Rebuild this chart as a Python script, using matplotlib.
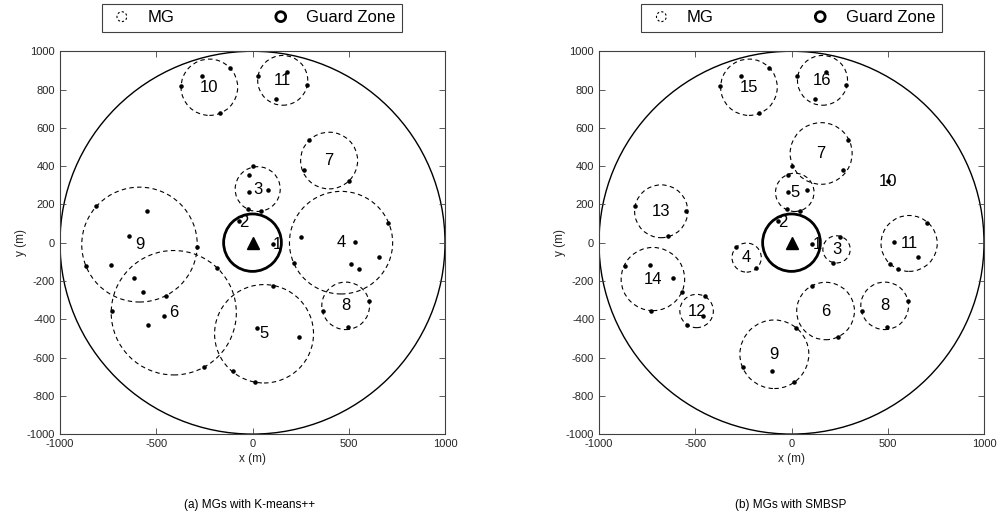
import matplotlib.pyplot as plt
from matplotlib.patches import Circle
from matplotlib.legend_handler import HandlerPatch

plt.rcParams['font.family'] = ['Liberation Sans', 'DejaVu Sans']
plt.rcParams['axes.unicode_minus'] = False

# user positions (m), same drop for both clusterings
user_x = [-370, -263, -116, -170, 29, 178, 284, 121, 296, 268, 502, 5, -17, -19,
          80, -24, 45, -69, 109, 253, 535, 706, 656, -811, -547, -644, -289,
          -867, -737, -614, -567, -451, -732, -458, -543, -183, 213, 512, 552,
          109, 367, 604, 495, 21, 239, -254, -102, 14]
user_y = [816, 870, 913, 676, 871, 894, 826, 751, 534, 381, 322, 398, 356, 264,
          275, 176, 165, 113, -9, 30, 5, 103, -75, 191, 163, 35, -23,
          -122, -118, -184, -259, -281, -356, -384, -431, -132, -104, -111, -135,
          -224, -356, -304, -441, -444, -491, -651, -670, -726]

# K-means++ groups: centre x, centre y, radius (0 = single user)
km_x = [131, -47, 27, 460, 60, -409, 398, 484, -587, -224, 157]
km_y = [-12, 103, 280, 0, -476, -366, 429, -330, -10, 812, 848]
km_r = [0, 0, 117, 268, 257, 325, 148, 124, 300, 147, 130]

# SMBSP groups
sm_x = [133, -46, 234, -233, 17, 177, 154, 484, -89, 503, 611, -493, -677, -720, -221, 161]
sm_y = [-8, 106, -35, -78, 263, -357, 466, -330, -583, 318, -4, -357, 164, -190, 812, 848]
sm_r = [0, 0, 71, 76, 100, 150, 161, 124, 179, 0, 146, 87, 138, 165, 147, 130]

cell_r = 1000
guard_r = 150
dash = (0, (4, 3))
axcol = '#404040'

fig = plt.figure(figsize=(10, 5.23), dpi=100)


def circle_handle(legend, orig_handle, xdescent, ydescent, width, height, fontsize):
    return Circle((width / 2 - xdescent, height / 2 - ydescent), radius=height * 0.42)


def draw(rect, cx, cy, rr, leg_xy, caption, cap_x):
    ax = fig.add_axes(rect)
    ax.add_patch(Circle((0, 0), cell_r, fill=False, ec='k', lw=1.0))
    for x, y, r in zip(cx, cy, rr):
        if r > 0:
            ax.add_patch(Circle((x, y), r, fill=False, ec='k', lw=0.8, ls=dash))
    ax.add_patch(Circle((0, 0), guard_r, fill=False, ec='k', lw=2.0))
    ax.plot(user_x, user_y, 'k.', ms=4.5)
    ax.plot(0, 0, 'k^', ms=9)
    for i, (x, y) in enumerate(zip(cx, cy)):
        ax.text(x, y, str(i + 1), ha='center', va='center', fontsize=12)
    ax.set_xlim(-1000, 1000)
    ax.set_ylim(-1000, 1000)
    ax.set_xticks([-1000, -500, 0, 500, 1000])
    ax.set_yticks(range(-1000, 1001, 200))
    ax.tick_params(direction='in', top=True, right=True, length=4, width=0.6,
                   labelsize=8, colors=axcol, labelcolor='#262626')
    for s in ax.spines.values():
        s.set_color(axcol)
        s.set_linewidth(0.8)
    ax.set_xlabel('x (m)', fontsize=8.5, color='#262626', labelpad=3)
    ax.set_ylabel('y (m)', fontsize=8.5, color='#262626', labelpad=0)

    h1 = Circle((0, 0), 1, fill=False, ec='k', lw=0.8, ls=(0, (2, 2)))
    h2 = Circle((0, 0), 1, fill=False, ec='k', lw=2.0)
    leg = ax.legend([h1, h2], ['MG', 'Guard Zone'], loc='center', ncol=2,
                    bbox_to_anchor=leg_xy, bbox_transform=fig.transFigure,
                    fontsize=12, fancybox=False, framealpha=1,
                    edgecolor=axcol, borderpad=0.4, handlelength=1.6,
                    handletextpad=0.72, columnspacing=5.6, borderaxespad=0,
                    handler_map={Circle: HandlerPatch(patch_func=circle_handle)})
    leg.get_frame().set_linewidth(0.8)
    fig.text(cap_x, 1 - 505 / 523, caption, ha='center', va='center', fontsize=8.5)
    return ax


draw([0.060, 0.170, 0.385, 0.732], km_x, km_y, km_r,
     (0.252, 1 - 18 / 523), '(a) MGs with K-means++', 0.250)
draw([0.599, 0.170, 0.385, 0.732], sm_x, sm_y, sm_r,
     (0.7915, 1 - 18 / 523), '(b) MGs with SMBSP', 0.791)

fig.savefig('out.png', dpi=100)
